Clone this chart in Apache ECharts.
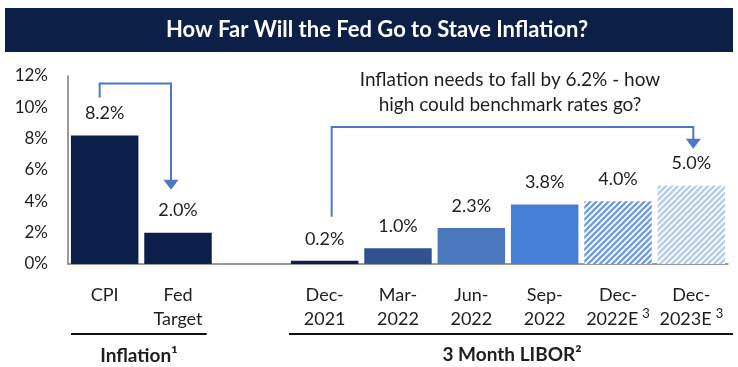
<!DOCTYPE html>
<html><head><meta charset="utf-8">
<script src="https://cdn.jsdelivr.net/npm/echarts@6/dist/echarts.min.js"></script>
<style>html,body{margin:0;padding:0;background:#fff}#c{width:738px;height:367px}</style>
</head><body><div id="c"></div>
<script>
const titleText = 'How Far Will the Fed Go to Stave Inflation?';
const categories = ['CPI', 'Fed\nTarget', '', 'Dec-\n2021', 'Mar-\n2022', 'Jun-\n2022', 'Sep-\n2022', 'Dec-\n2022E', 'Dec-\n2023E'];
const categoryNotes = ['', '', '', '', '', '', '', '3', '3'];
const values = [8.2, 2.0, null, 0.2, 1.0, 2.3, 3.8, 4.0, 5.0];
const yTicks = [0, 2, 4, 6, 8, 10, 12];
const groupLabels = ['Inflation\u00b9', '3 Month LIBOR\u00b2'];
const annotationLines = ['Inflation needs to fall by 6.2% - how', 'high could benchmark rates go?'];

const FONT = 'Lato';
const TXT = '#1e1e1e';
const NAVY = '#0b1f4a';
const ARROW = '#4a77c6';

function stripes(color) {
  const c = document.createElement('canvas');
  c.width = c.height = 6;
  const g = c.getContext('2d');
  g.fillStyle = '#fff'; g.fillRect(0, 0, 6, 6);
  g.strokeStyle = color; g.lineWidth = 2.3;
  g.beginPath();
  g.moveTo(-1, 7); g.lineTo(7, -1);
  g.moveTo(-1, 1); g.lineTo(1, -1);
  g.moveTo(5, 7); g.lineTo(7, 5);
  g.stroke();
  return { image: c, repeat: 'repeat' };
}
const barColors = [NAVY, NAVY, NAVY, NAVY, '#2f5290', '#4a78be', '#4680d6', stripes('#6f9be6'), stripes('#b6cbeb')];

const chart = echarts.init(document.getElementById('c'));
const option = {
  animation: false,
  backgroundColor: '#fff',
  textStyle: { fontFamily: FONT },
  grid: { left: 68, right: 10, top: 76, bottom: 103, containLabel: false },
  xAxis: {
    type: 'category',
    data: categories,
    axisLine: { lineStyle: { color: '#7a7a7a', width: 1.5 } },
    axisTick: { show: false },
    axisLabel: {
      fontSize: 18, color: TXT, lineHeight: 24, margin: 19, interval: 0, fontFamily: FONT,
      formatter: (v, i) => {
        const n = categoryNotes[i];
        return v.split('\n').map((l, k, arr) => '{a|' + l + '}' + (n && k === arr.length - 1 ? '{s|' + n + '}' : '')).join('\n');
      },
      rich: {
        a: { fontSize: 18, color: TXT, lineHeight: 24, fontFamily: FONT },
        s: { fontSize: 13, color: TXT, lineHeight: 22, verticalAlign: 'top', padding: [0, 0, 0, 4], fontFamily: FONT }
      }
    }
  },
  yAxis: {
    type: 'value', min: yTicks[0], max: yTicks[yTicks.length - 1], interval: 2,
    axisLine: { show: true, lineStyle: { color: '#7a7a7a', width: 1.5 } },
    axisTick: { show: false },
    splitLine: { show: false },
    axisLabel: { fontSize: 17, color: TXT, margin: 20, formatter: v => v + '%', fontFamily: FONT }
  },
  series: [{
    type: 'bar',
    barCategoryGap: '8%',
    data: values.map((v, i) => ({ value: v, itemStyle: { color: barColors[i] } })),
    label: {
      show: true, position: 'top', distance: 13, fontSize: 18, color: TXT, fontFamily: FONT,
      formatter: p => p.value == null ? '' : p.value.toFixed(1) + '%'
    }
  }]
};
chart.setOption(option);

function px(cat, val) { return chart.convertToPixel({ xAxisIndex: 0, yAxisIndex: 0 }, [cat, val]); }
function arrow(x0, y0, yTop, x1, yTip) {
  return [
    { type: 'polyline', shape: { points: [[x0, y0], [x0, yTop], [x1, yTop], [x1, yTip - 9]] }, style: { stroke: ARROW, lineWidth: 2, fill: null } },
    { type: 'polygon', shape: { points: [[x1 - 7.5, yTip - 10], [x1 + 7.5, yTip - 10], [x1, yTip]] }, style: { fill: ARROW } }
  ];
}
const cpi = px(0, values[0]), fed = px(1, values[1]);
const d21 = px(3, values[3]), d23 = px(8, values[8]);
const step = px(1, 0)[0] - px(0, 0)[0];
const half = step / 2;
const y0 = px(0, 0)[1];
const gr = [];
gr.push({ type: 'rect', shape: { x: 5, y: 8, width: 728, height: 44 }, style: { fill: '#0b1f47' }, z: 10 });
gr.push({ type: 'text', x: 377, y: 30, z: 11, style: { text: titleText, fill: '#fff', font: 'bold 22px ' + FONT, align: 'center', verticalAlign: 'middle' } });
gr.push(...arrow(cpi[0] - 5, cpi[1] - 38, cpi[1] - 52, fed[0] - 7, fed[1] - 43));
gr.push(...arrow(d21[0] + 7, d21[1] - 44, y0 - 137, d23[0] + 2, d23[1] - 37));
const midR = (d21[0] + d23[0]) / 2;
annotationLines.forEach((t, i) => gr.push({ type: 'text', x: midR + 2, y: 80 + i * 25, style: { text: t, fill: TXT, font: '19px ' + FONT, align: 'center', verticalAlign: 'middle' } }));
// group underlines and labels
const lineY = y0 + 70;
const gL = [cpi[0] - half + 3, fed[0] + half - 8];
const gR = [d21[0] - half + 1, d23[0] + half + 5];
gr.push({ type: 'line', shape: { x1: gL[0], y1: lineY, x2: gL[1], y2: lineY }, style: { stroke: '#111', lineWidth: 2 } });
gr.push({ type: 'line', shape: { x1: gR[0], y1: lineY, x2: gR[1], y2: lineY }, style: { stroke: '#111', lineWidth: 2 } });
gr.push({ type: 'text', x: (gL[0] + gL[1]) / 2, y: lineY + 22, style: { text: groupLabels[0], fill: TXT, font: 'bold 19px ' + FONT, align: 'center', verticalAlign: 'middle' } });
gr.push({ type: 'text', x: midR + 4, y: lineY + 21, style: { text: groupLabels[1], fill: TXT, font: 'bold 19px ' + FONT, align: 'center', verticalAlign: 'middle' } });
chart.setOption({ graphic: gr });
</script></body></html>
